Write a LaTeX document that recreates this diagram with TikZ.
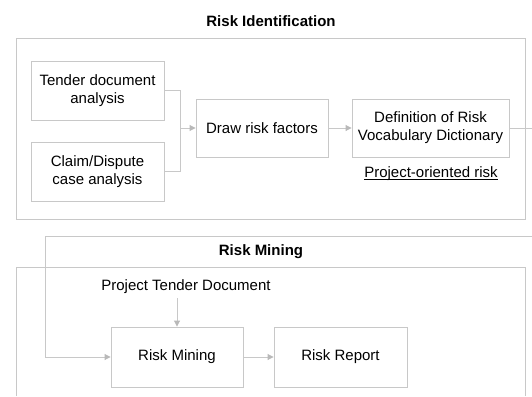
\documentclass[tikz,border=0pt]{standalone}
\usepackage{fontspec}
\setmainfont{Liberation Sans}
\usepackage{xcolor}
\definecolor{rkline}{RGB}{200,200,200}
\definecolor{rktip}{RGB}{185,185,185}
\usepackage{tikz}
\usetikzlibrary{arrows.meta}
\tikzset{
  rkbox/.style={draw=rkline,line width=0.9pt,align=center,inner sep=2pt,font=\fontsize{15}{18}\selectfont},
  rkarrow/.style={draw=rkline,line width=0.9pt,-{Triangle[length=6pt,width=6pt,color=rktip]}},
  rkline/.style={draw=rkline,line width=0.9pt},
  rktitle/.style={font=\fontsize{15}{18}\selectfont\bfseries}
}

\begin{document}
\begin{tikzpicture}[x=1pt,y=-1pt]
\useasboundingbox (0,0) rectangle (532,396);
% ---- RISK IDENTIFICATION ----
\node[rktitle] (titleid) at (271,21) {Risk Identification};
\draw[rkline] (16,38) rectangle (525,219);
\node[rkbox,minimum width=133pt,minimum height=59pt] (tender) at (97.5,90.5) {Tender document\\analysis};
\node[rkbox,minimum width=133pt,minimum height=59pt] (claim) at (97.5,171.5) {Claim/Dispute\\case analysis};
\node[rkbox,minimum width=132pt,minimum height=58pt] (factors) at (262,128) {Draw risk factors};
\node[rkbox,minimum width=157pt,minimum height=58pt] (dict) at (430.5,128) {Definition of Risk\\Vocabulary Dictionary};
\node[font=\fontsize{15}{18}\selectfont,inner sep=0pt,anchor=base] (porisk) at (431,177.5) {\underline{\smash{Project-oriented risk}}};
\coordinate (join) at (180,128);
\draw[rkline] (tender.east) -- (tender.east -| join) -- (claim.east -| join) -- (claim.east);
\draw[rkarrow] (join) -- (factors.west);
\draw[rkarrow] (factors.east) -- (dict.west);
% ---- RISK MINING ----
\coordinate (edgeA) at (532,128);
\coordinate (edgeB) at (532,236);
\coordinate (bendB) at (45,236);
\draw[rkline] (dict.east) -- (edgeA);
\node[rktitle] (titlemin) at (261,252) {Risk Mining};
\draw[rkline] (16,396) -- (16,267) -- (525,267) -- (525,396);
\node[font=\fontsize{15}{18}\selectfont,inner sep=1pt] (ptd) at (186,287) {Project Tender Document};
\node[rkbox,minimum width=132pt,minimum height=60pt] (mining) at (177,357) {Risk Mining};
\node[rkbox,minimum width=133pt,minimum height=60pt] (report) at (340.5,357) {Risk Report};
\draw[rkarrow] (edgeB) -- (bendB) -- (bendB |- mining.west) -- (mining.west);
\draw[rkarrow] (mining.north |- ptd.south) ++(0,3) -- (mining.north);
\draw[rkarrow] (mining.east) -- (report.west);
\end{tikzpicture}
\end{document}
